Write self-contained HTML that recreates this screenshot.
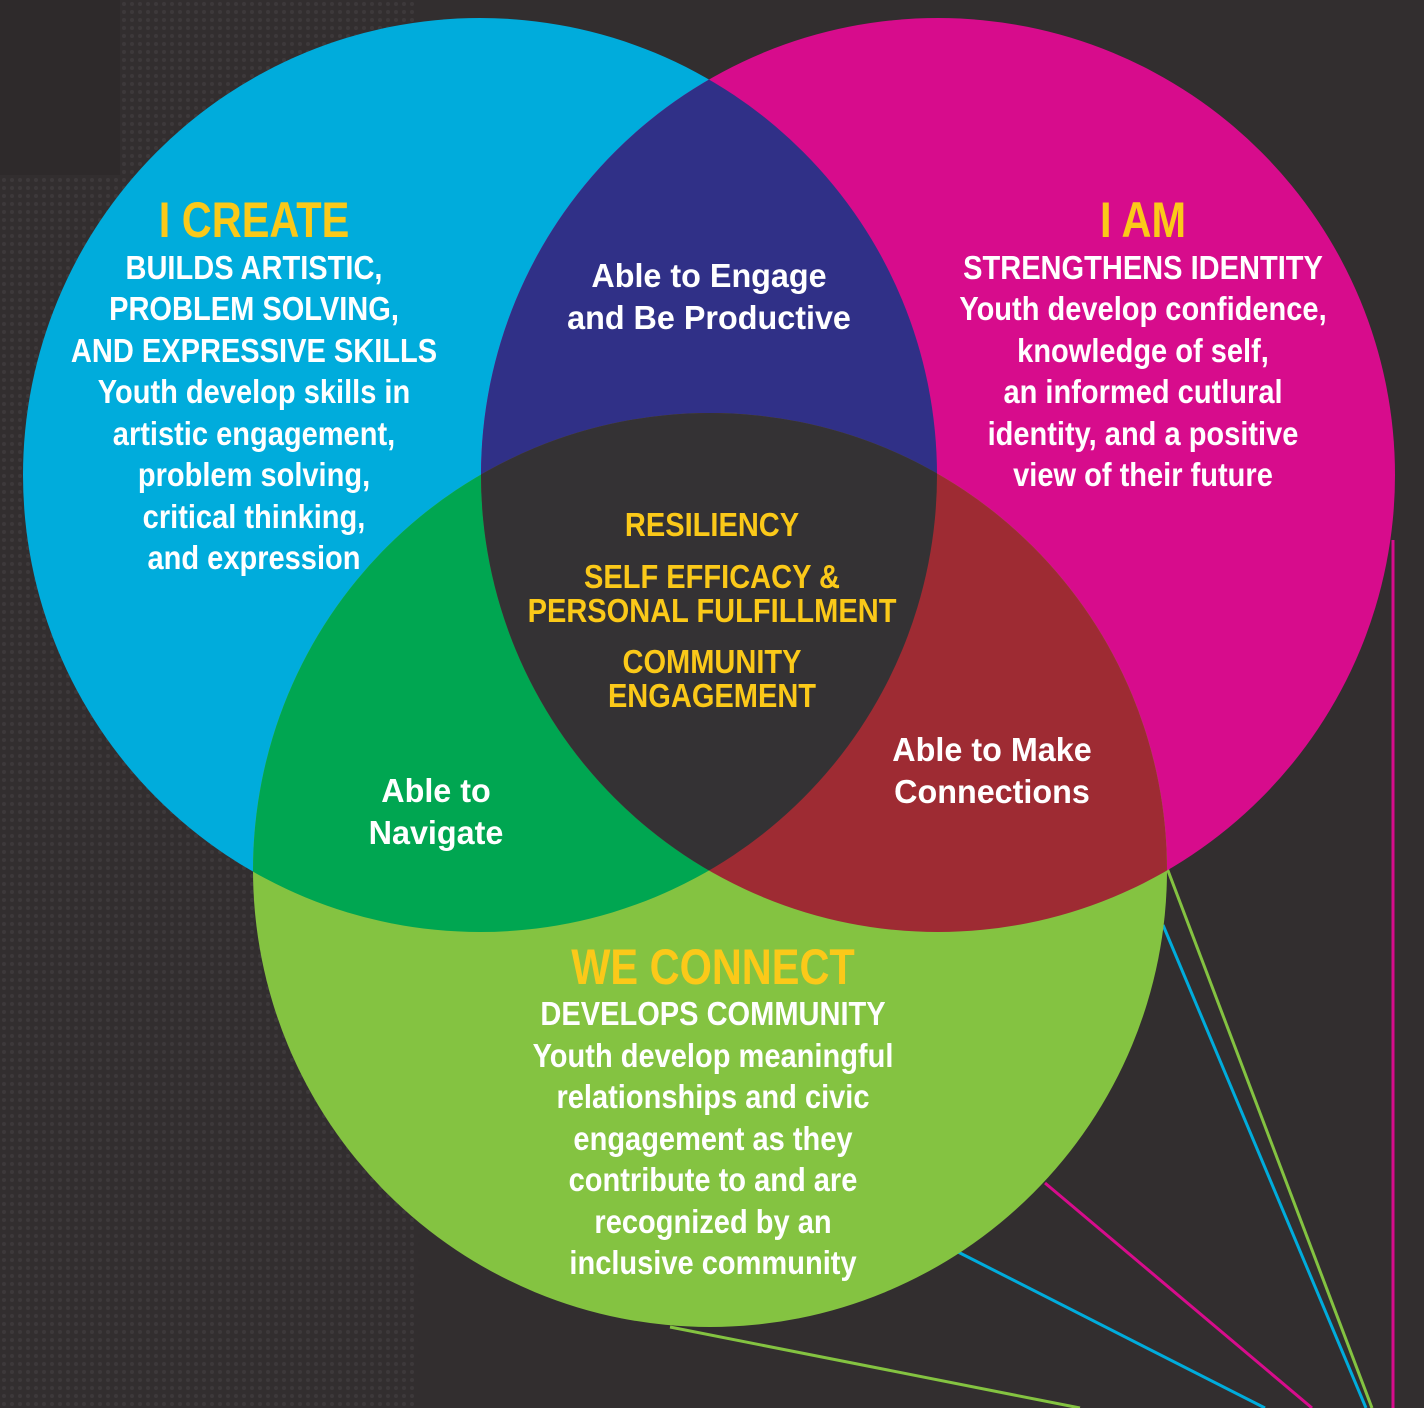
<!DOCTYPE html>
<html><head><meta charset="utf-8"><style>
body{margin:0;width:1424px;height:1408px;overflow:hidden;background:#322e2f}
svg{position:absolute;left:0;top:0}
text{font-family:"Liberation Sans Narrow","Liberation Sans",sans-serif;font-weight:bold;text-anchor:middle}
.w{fill:#fff;font-size:33px}
.y{fill:#fbc919}
</style></head><body>
<svg width="1424" height="1408" viewBox="0 0 1424 1408">
<defs>
<pattern id="dots" width="8" height="8" patternUnits="userSpaceOnUse"><circle cx="4" cy="4" r="2" fill="#3d393a"/></pattern>
<clipPath id="cB"><circle cx="480" cy="475" r="457"/></clipPath>
<clipPath id="cM"><circle cx="938" cy="475" r="457"/></clipPath>
</defs>
<rect width="1424" height="1408" fill="#322e2f"/>
<rect width="415" height="1408" fill="url(#dots)"/>
<rect width="120" height="175" fill="#2e2a2b"/>
<g stroke-width="3" fill="none">
<line x1="1393" y1="540" x2="1393" y2="1408" stroke="#d70c8c"/>
<line x1="1167" y1="868" x2="1372" y2="1408" stroke="#84c341"/>
<line x1="1163" y1="925" x2="1366" y2="1408" stroke="#00acdc"/>
<line x1="1045" y1="1183" x2="1312" y2="1408" stroke="#d70c8c"/>
<line x1="958" y1="1252" x2="1265" y2="1408" stroke="#00acdc"/>
<line x1="670" y1="1327" x2="1080" y2="1408" stroke="#84c341"/>
</g>
<circle cx="480" cy="475" r="457" fill="#00acdc"/>
<circle cx="938" cy="475" r="457" fill="#d70c8c"/>
<circle cx="710" cy="870" r="457" fill="#84c341"/>
<g clip-path="url(#cB)"><circle cx="938" cy="475" r="457" fill="#303087"/><circle cx="710" cy="870" r="457" fill="#00a651"/></g>
<g clip-path="url(#cM)"><circle cx="710" cy="870" r="457" fill="#9e2b33"/></g>
<g clip-path="url(#cB)"><g clip-path="url(#cM)"><circle cx="710" cy="870" r="457" fill="#343234"/></g></g>

<g transform="translate(254,0) scale(0.83,1)"><text x="0" y="237" class="y" font-size="50">I CREATE</text></g>
<g transform="translate(254,0) scale(0.88,1)"><text class="w"><tspan x="0" y="279">BUILDS ARTISTIC,</tspan><tspan x="0" y="320">PROBLEM SOLVING,</tspan><tspan x="0" y="362">AND EXPRESSIVE SKILLS</tspan><tspan x="0" y="403">Youth develop skills in</tspan><tspan x="0" y="445">artistic engagement,</tspan><tspan x="0" y="486">problem solving,</tspan><tspan x="0" y="528">critical thinking,</tspan><tspan x="0" y="569">and expression</tspan></text></g>

<g transform="translate(1143,0) scale(0.83,1)"><text x="0" y="237" class="y" font-size="50">I AM</text></g>
<g transform="translate(1143,0) scale(0.88,1)"><text class="w"><tspan x="0" y="279">STRENGTHENS IDENTITY</tspan><tspan x="0" y="320">Youth develop confidence,</tspan><tspan x="0" y="362">knowledge of self,</tspan><tspan x="0" y="403">an informed cutlural</tspan><tspan x="0" y="445">identity, and a positive</tspan><tspan x="0" y="486">view of their future</tspan></text></g>

<g transform="translate(709,0) scale(0.98,1)"><text class="w" font-size="35"><tspan x="0" y="287">Able to Engage</tspan><tspan x="0" y="329">and Be Productive</tspan></text></g>
<g transform="translate(712,0) scale(0.88,1)"><text class="y" font-size="33"><tspan x="0" y="536">RESILIENCY</tspan><tspan x="0" y="588">SELF EFFICACY &amp;</tspan><tspan x="0" y="622">PERSONAL FULFILLMENT</tspan><tspan x="0" y="673">COMMUNITY</tspan><tspan x="0" y="707">ENGAGEMENT</tspan></text></g>
<g transform="translate(436,0) scale(0.98,1)"><text class="w" font-size="35"><tspan x="0" y="802">Able to</tspan><tspan x="0" y="844">Navigate</tspan></text></g>
<g transform="translate(992,0) scale(0.98,1)"><text class="w" font-size="35"><tspan x="0" y="761">Able to Make</tspan><tspan x="0" y="803">Connections</tspan></text></g>

<g transform="translate(713,0) scale(0.83,1)"><text x="0" y="984" class="y" font-size="50">WE CONNECT</text></g>
<g transform="translate(713,0) scale(0.88,1)"><text class="w"><tspan x="0" y="1025">DEVELOPS COMMUNITY</tspan><tspan x="0" y="1067">Youth develop meaningful</tspan><tspan x="0" y="1108">relationships and civic</tspan><tspan x="0" y="1150">engagement as they</tspan><tspan x="0" y="1191">contribute to and are</tspan><tspan x="0" y="1233">recognized by an</tspan><tspan x="0" y="1274">inclusive community</tspan></text></g>
</svg>
</body></html>
